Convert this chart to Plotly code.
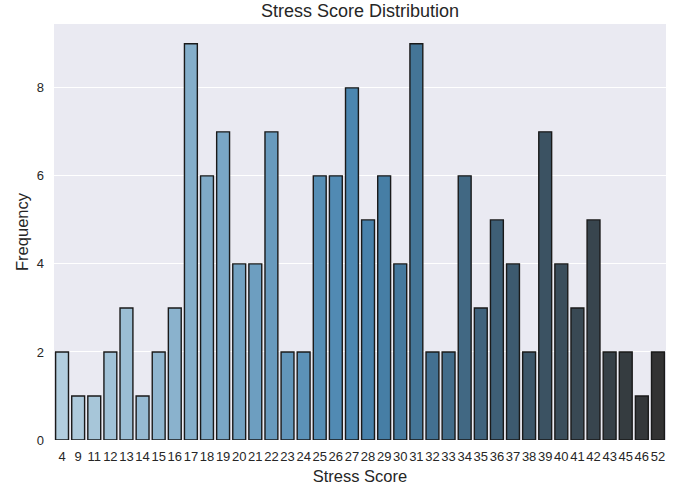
import colorsys
import numpy as np
import plotly.graph_objects as go

scores = [4, 9, 11, 12, 13, 14, 15, 16, 17, 18, 19, 20, 21, 22, 23, 24, 25, 26, 27,
          28, 29, 30, 31, 32, 33, 34, 35, 36, 37, 38, 39, 40, 41, 42, 43, 45, 46, 52]
counts = [2, 1, 1, 2, 3, 1, 2, 3, 9, 6, 7, 4, 4, 7, 2, 2, 6, 6, 8,
          5, 6, 4, 9, 2, 2, 6, 3, 5, 4, 2, 7, 4, 3, 5, 2, 2, 1, 2]
labels = [str(s) for s in scores]

# Blues_d-like palette: blend light blue -> mid blue -> dark gray, then desaturate
anchors = [(171, 208, 230), (55, 135, 192), (51, 51, 51)]
n = len(scores)
colors = []
for t in np.linspace(0, 1, n):
    pos = t * (len(anchors) - 1)
    i = min(int(pos), len(anchors) - 2)
    f = pos - i
    rgb = [(anchors[i][k] + (anchors[i + 1][k] - anchors[i][k]) * f) / 255 for k in range(3)]
    h, l, s = colorsys.rgb_to_hls(*rgb)
    r, g, b = colorsys.hls_to_rgb(h, l, s * 0.75)
    colors.append(f"rgb({round(r*255)},{round(g*255)},{round(b*255)})")

font_family = "Liberation Sans, Arial, DejaVu Sans, sans-serif"

fig = go.Figure(go.Bar(
    x=labels, y=counts, width=0.8,
    marker=dict(color=colors, line=dict(color="#1a1a1a", width=1.4)),
))

fig.update_layout(
    width=693, height=489,
    margin=dict(l=54, r=27, t=24, b=49),
    paper_bgcolor="white", plot_bgcolor="#eaeaf2",
    font=dict(family=font_family, color="#262626"),
    title=dict(text="Stress Score Distribution", xref="paper", x=0.5, xanchor="center",
               yref="container", y=1 - 10.5 / 489, yanchor="middle",
               font=dict(size=18, color="#262626")),
    showlegend=False,
)
fig.update_xaxes(
    type="category", range=[-0.5, n - 0.5], showgrid=False, zeroline=False,
    showline=False, ticks="", automargin=False, ticklabelstandoff=7, tickangle=0,
    tickfont=dict(size=13, color="#262626"),
    title=dict(text="Stress Score", font=dict(size=16.5, color="#262626"), standoff=7),
)
fig.update_yaxes(
    range=[0, 9.45], tickvals=[0, 2, 4, 6, 8], showgrid=True, gridcolor="white",
    gridwidth=1.3, zeroline=False, showline=False, ticks="", automargin=False,
    ticklabelstandoff=9,
    tickfont=dict(size=13, color="#262626"),
    title=dict(text="Frequency", font=dict(size=16.5, color="#262626"), standoff=3),
)

fig.write_html("out.html", config={"displayModeBar": False},
               post_script="document.body.style.margin='0';")
